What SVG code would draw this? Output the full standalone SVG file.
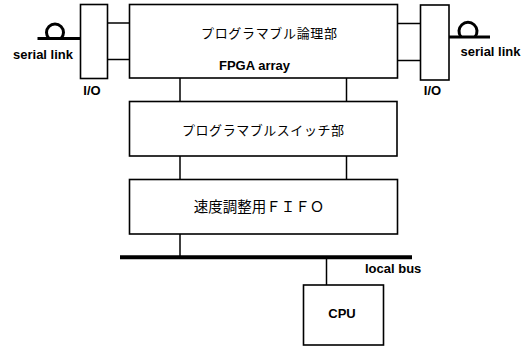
<svg xmlns="http://www.w3.org/2000/svg" width="532" height="347" viewBox="0 0 532 347">
<style>
.box{fill:#fff;stroke:#000;stroke-width:1.6}
.ln{stroke:#000;stroke-width:1.5;fill:none}
.thick{stroke:#000;stroke-width:3;fill:none}
.lbl{font-family:"Liberation Sans",Arial,sans-serif;font-weight:bold;font-size:13px;fill:#000}
.jp{font-family:"Noto Sans CJK JP","Noto Sans CJK SC",sans-serif;font-size:13px;fill:#000}
</style>
<rect width="532" height="347" fill="#fff"/>
<g id="connectors">
<line class="ln" x1="107.5" y1="23" x2="129.5" y2="23"/>
<line class="ln" x1="107.5" y1="59.5" x2="129.5" y2="59.5"/>
<line class="ln" x1="397.5" y1="23.5" x2="420.5" y2="23.5"/>
<line class="ln" x1="397.5" y1="60.5" x2="420.5" y2="60.5"/>
<line class="ln" x1="180" y1="78" x2="180" y2="101.5"/>
<line class="ln" x1="346.5" y1="78" x2="346.5" y2="101.5"/>
<line class="ln" x1="180" y1="156" x2="180" y2="179.5"/>
<line class="ln" x1="346.5" y1="156" x2="346.5" y2="179.5"/>
<line class="ln" x1="180" y1="234" x2="180" y2="257"/>
<line class="ln" x1="326.5" y1="257" x2="326.5" y2="285"/>
<line x1="120" y1="257.3" x2="412" y2="257.3" stroke="#000" stroke-width="4"/>
<line class="thick" x1="37.5" y1="38.5" x2="80" y2="38.5"/>
<path class="thick" d="M49 38.5 A8.5 8.5 0 1 1 61 38.5"/>
<line class="thick" x1="449" y1="37" x2="490" y2="37"/>
<path class="thick" d="M461 37 A9 9 0 1 1 475 37"/>
</g>
<g id="io-left">
<rect class="box" x="80.5" y="4.5" width="27" height="74"/>
<text class="lbl" x="92" y="95" text-anchor="middle">I/O</text>
<text class="lbl" x="43" y="58.5" text-anchor="middle">serial link</text>
</g>
<g id="io-right">
<rect class="box" x="420.5" y="5" width="28.5" height="75"/>
<text class="lbl" x="432.5" y="95" text-anchor="middle">I/O</text>
<text class="lbl" x="490.5" y="56" text-anchor="middle">serial link</text>
</g>
<g id="fpga">
<rect class="box" x="129.5" y="4.5" width="268" height="73.5"/>
<text class="jp" x="269" y="38" text-anchor="middle" textLength="136" lengthAdjust="spacing">プログラマブル論理部</text>
<text class="lbl" x="254.5" y="70" text-anchor="middle">FPGA array</text>
</g>
<g id="switch">
<rect class="box" x="129.5" y="101.5" width="267.5" height="54.5"/>
<text class="jp" x="263" y="135" text-anchor="middle" textLength="162" lengthAdjust="spacing">プログラマブルスイッチ部</text>
</g>
<g id="fifo">
<rect class="box" x="129.5" y="179.5" width="268" height="54.5"/>
<text class="jp" x="259" y="212" text-anchor="middle" style="font-size:14.5px">速度調整用ＦＩＦＯ</text>
</g>
<g id="localbus">
<text class="lbl" x="365" y="272.5">local bus</text>
</g>
<g id="cpu">
<rect class="box" x="303.5" y="285" width="80" height="60"/>
<text class="lbl" x="342" y="318" text-anchor="middle">CPU</text>
</g>
</svg>
